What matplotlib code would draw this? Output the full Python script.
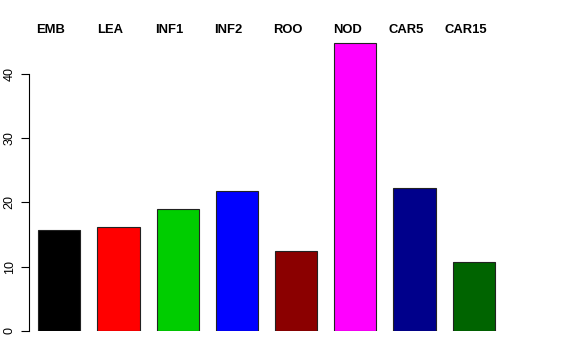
import matplotlib
matplotlib.use("Agg")
import matplotlib.pyplot as plt

labels = ["EMB", "LEA", "INF1", "INF2", "ROO", "NOD", "CAR5", "CAR15"]
values = [15.75, 16.2, 18.9, 21.8, 12.45, 44.8, 22.2, 10.8]
colors = ["#000000", "#FF0000", "#00CD00", "#0000FF", "#8B0000", "#FF00FF", "#00008B", "#006400"]
yticks = [0, 10, 20, 30, 40]

plt.rcParams["font.family"] = ["Liberation Sans", "DejaVu Sans"]

fig = plt.figure(figsize=(5.76, 3.6), dpi=100)
# axes from pixel x=29 to right edge, y=0 at pixel 29 from bottom
ax = fig.add_axes([29 / 576, 29 / 360, 1 - 29 / 576, 1 - 29 / 360])
xs = list(range(len(labels)))
ax.bar(xs, values, width=0.71, color=colors, edgecolor="#222222", linewidth=0.8)
ax.set_xlim(-0.512, 8.728)
ax.set_ylim(0, 331 / 6.43)

for s in ["top", "right", "bottom"]:
    ax.spines[s].set_visible(False)
ax.spines["left"].set_bounds(0, 40)
ax.spines["left"].set_linewidth(0.8)
ax.set_xticks([])
ax.set_yticks(yticks)
ax.set_yticklabels([str(v) for v in yticks], rotation=90, va="center", fontsize=9)
ax.tick_params(axis="y", length=5.5, width=0.8, pad=4)

for i, lab in enumerate(labels):
    ax.text(i - 0.14, 301 / 6.43, lab, ha="center", va="center",
            fontsize=9.4, fontweight="bold", clip_on=False)

fig.savefig("out.png", dpi=100)
